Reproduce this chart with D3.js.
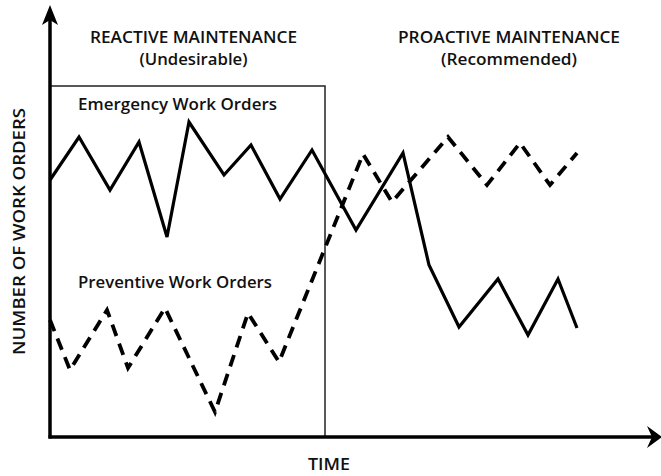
<!DOCTYPE html>
<html>
<head>
<meta charset="utf-8">
<script src="https://cdn.jsdelivr.net/npm/d3@7"></script>
<style>
  html, body { margin: 0; padding: 0; background: #fff; }
  svg { display: block; }
  text { font-family: "Open Sans", "Noto Sans", sans-serif; fill: #111; font-weight: 600; }
</style>
</head>
<body>
<svg id="chart" width="661" height="476"></svg>
<script>
// ---- data (time units, work-order counts) ----
const emergencyTime   = [0, 29, 60, 89, 117, 139, 174, 201, 230, 262, 306, 353, 379, 409, 448, 478, 508, 527];
const emergencyOrders = [64.25, 75, 61.75, 73.75, 50, 78.75, 65.5, 73, 59.5, 71.75, 51.75, 71, 43, 27.5, 39.5, 25.5, 39.5, 27.25];
const preventiveTime   = [0, 20, 57, 78, 115, 165, 198, 229, 313, 342, 398, 437, 470, 500, 527];
const preventiveOrders = [29.25, 16.75, 31.75, 17.25, 32.25, 6.25, 31, 18.75, 70.75, 58.75, 75, 63, 73.5, 63, 71];
const reactiveEnd = 275;      // time where reactive phase ends
const boxTop = 87.75;         // top of reactive box
const phaseTitles = ["REACTIVE MAINTENANCE", "PROACTIVE MAINTENANCE"];
const phaseSubtitles = ["(Undesirable)", "(Recommended)"];
const seriesLabels = ["Emergency Work Orders", "Preventive Work Orders"];
const xTitle = "TIME";
const yTitle = "NUMBER OF WORK ORDERS";

const svg = d3.select("#chart");
const x = d3.scaleLinear().domain([0, 600]).range([50, 650]);
const y = d3.scaleLinear().domain([0, 100]).range([437, 37]);

// reactive box
svg.append("rect")
  .attr("x", x(0)).attr("y", y(boxTop))
  .attr("width", x(reactiveEnd) - x(0))
  .attr("height", y(0) - y(boxTop))
  .attr("fill", "none").attr("stroke", "#222").attr("stroke-width", 1.5);

// axes
const x0 = x(0), y0 = y(0);
svg.append("line").attr("x1", x0).attr("y1", y0 + 1.5).attr("x2", x0).attr("y2", 18)
  .attr("stroke", "#000").attr("stroke-width", 3.5);
svg.append("line").attr("x1", x0 - 1.5).attr("y1", y0).attr("x2", 652).attr("y2", y0)
  .attr("stroke", "#000").attr("stroke-width", 3.5);
// arrowheads
svg.append("path")
  .attr("d", `M${x0},5 L${x0 + 8},25 L${x0},20 L${x0 - 8},25 Z`)
  .attr("fill", "#000");
svg.append("path")
  .attr("d", `M662,${y0} L647,${y0 - 11} L652,${y0} L647,${y0 + 11} Z`)
  .attr("fill", "#000");

const line = d3.line().x(d => x(d[0])).y(d => y(d[1]));

svg.append("path")
  .datum(emergencyTime.map((t, i) => [t, emergencyOrders[i]]))
  .attr("d", line)
  .attr("fill", "none").attr("stroke", "#000").attr("stroke-width", 3.2)
  .attr("stroke-linejoin", "miter");

svg.append("path")
  .datum(preventiveTime.map((t, i) => [t, preventiveOrders[i]]))
  .attr("d", line)
  .attr("fill", "none").attr("stroke", "#000").attr("stroke-width", 3.8)
  .attr("stroke-dasharray", "12,8");

function label(txt, xp, yp, size, len, anchor) {
  return svg.append("text").attr("x", xp).attr("y", yp)
    .attr("text-anchor", anchor || "start").attr("font-size", size)
    .attr("textLength", len).attr("lengthAdjust", "spacingAndGlyphs").text(txt);
}

// titles
const titleX = [193.5, 509];
const titleLen = [207, 222];
const subLen = [108, 136];
phaseTitles.forEach((t, i) => {
  label(t, titleX[i], 43, 16, titleLen[i], "middle");
  label(phaseSubtitles[i], titleX[i], 65, 16, subLen[i], "middle");
});

label(seriesLabels[0], 78, 110, 16, 199);
label(seriesLabels[1], 78, 288, 16, 194);

label(xTitle, 329, 470, 16, 42, "middle");

svg.append("text")
  .attr("transform", "translate(25,231.5) rotate(-90)")
  .attr("text-anchor", "middle").attr("font-size", 16.5)
  .attr("textLength", 247).attr("lengthAdjust", "spacingAndGlyphs").text(yTitle);
</script>
</body>
</html>
